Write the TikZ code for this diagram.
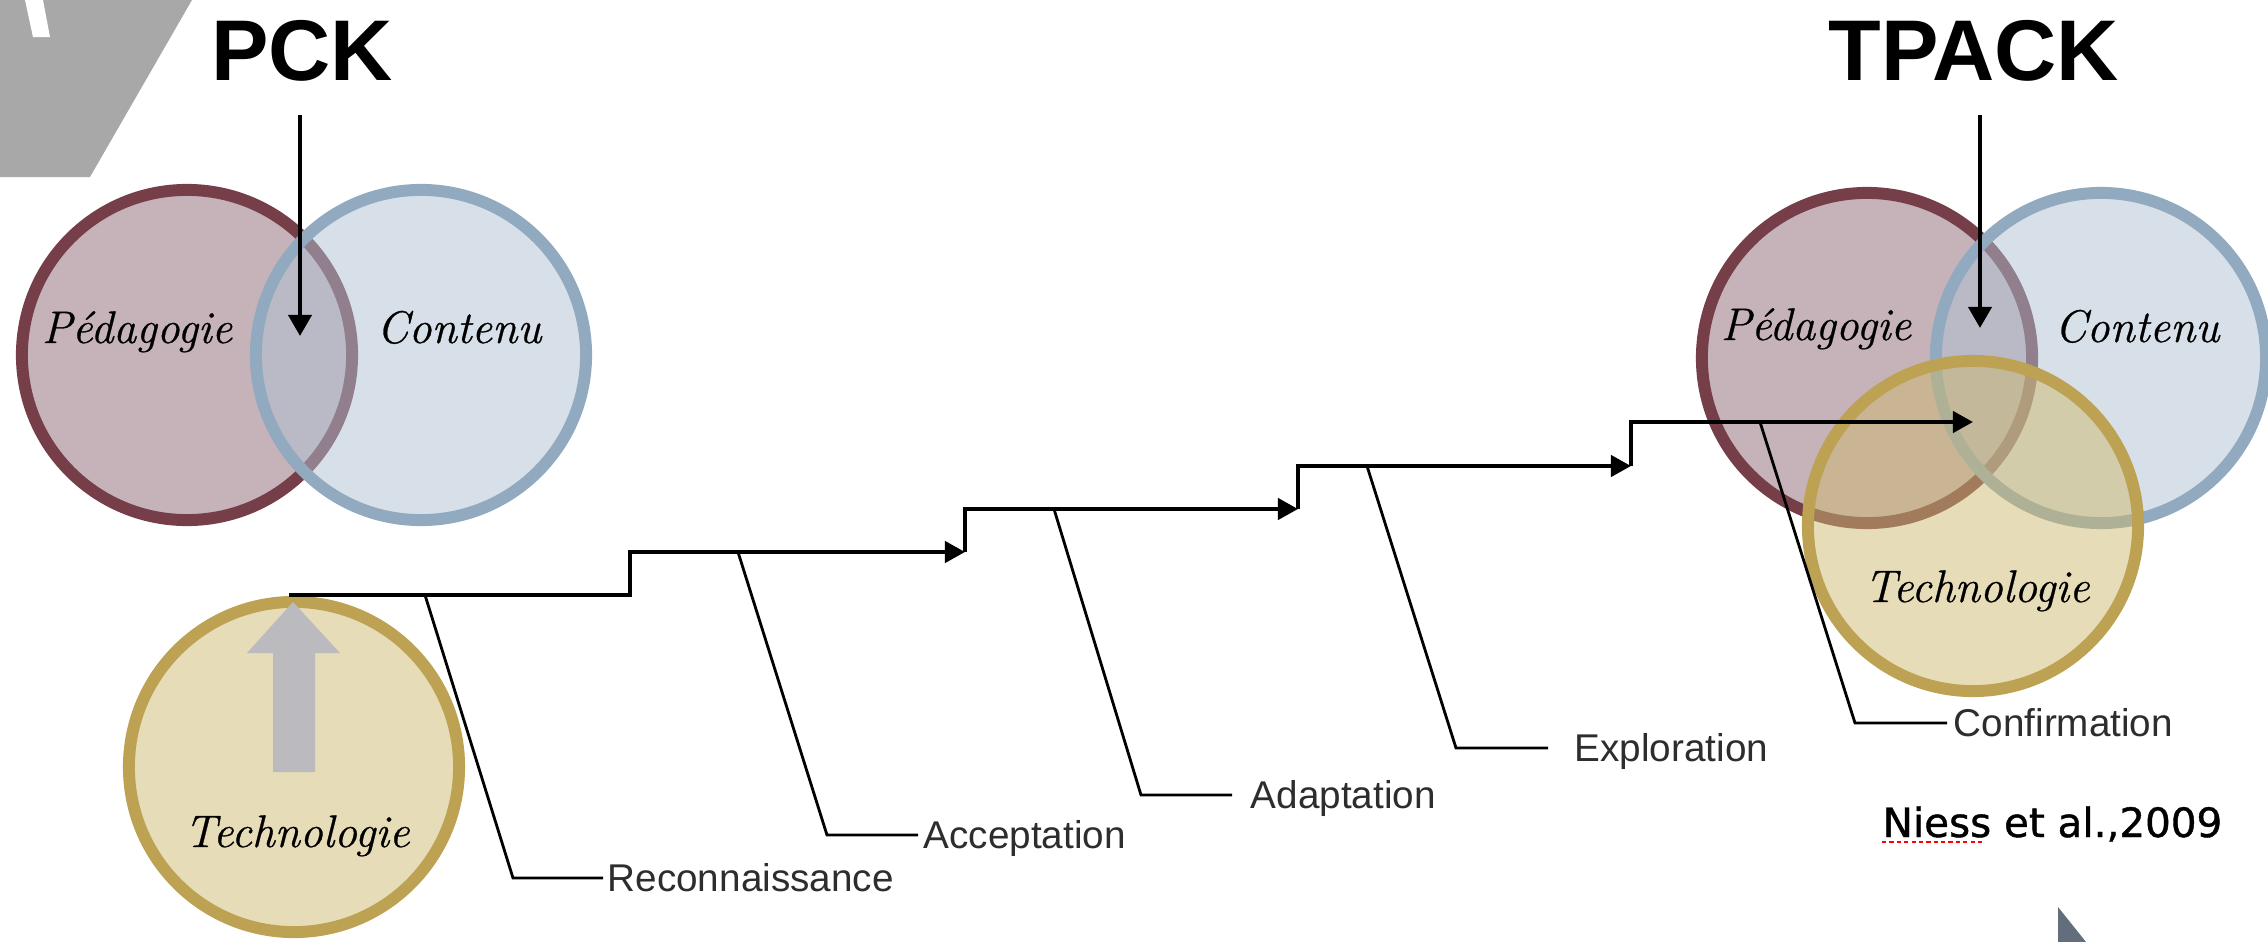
\documentclass[tikz,border=0pt]{standalone}
\usepackage{fontspec}
\newfontfamily\helv{Liberation Sans}
\newfontfamily\comic[FakeBold=1]{DejaVu Sans}
\newfontfamily\scriptfam[FakeBold=0.6]{Latin Modern Roman}
\usepackage{xcolor}
\usepackage{tikz}
\usetikzlibrary{positioning}
\usetikzlibrary{arrows.meta}
\usetikzlibrary{calc}

\definecolor{pedline}{RGB}{118,62,72}
\definecolor{pedfill}{RGB}{139,103,115}
\definecolor{conline}{RGB}{146,170,192}
\definecolor{confill}{RGB}{175,193,211}
\definecolor{tecline}{RGB}{190,162,83}
\definecolor{tecfill}{RGB}{205,185,111}
\definecolor{upgray}{RGB}{186,186,191}
\definecolor{cornergray}{RGB}{168,168,168}
\definecolor{slate}{RGB}{98,110,124}
\definecolor{stagetext}{RGB}{45,45,45}

\begin{document}
\begin{tikzpicture}[x=0.01cm, y=-0.01cm,
  venn/.style={circle, minimum size=3.3cm, line width=3.4pt, fill opacity=0.5},
  ped/.style={venn, draw=pedline, fill=pedfill},
  con/.style={venn, draw=conline, fill=confill},
  tec/.style={venn, draw=tecline, fill=tecfill},
  title/.style={font=\helv\bfseries\fontsize{24.5}{28}\selectfont, inner sep=0pt},
  script/.style={font=\scriptfam\itshape\fontsize{13}{15}\selectfont, anchor=base, inner sep=0pt},
  stage/.style={font=\helv\fontsize{11}{13}\selectfont, text=stagetext, inner sep=0pt, text height=7.9pt, text depth=0pt},
  stair/.style={line width=1.15pt, -{Triangle[length=5.7pt,width=6pt]}},
  leader/.style={line width=0.8pt},
  pointer/.style={line width=1.3pt, -{Triangle[length=6pt,width=6.5pt]}}]
\useasboundingbox (0,0) rectangle (2268,942);

% slide corners
\fill[cornergray] (0,0) -- (192,0) -- (90,177) -- (0,177) -- cycle;
\fill[white] (25,0) -- (43,0) -- (50,37) -- (33,37) -- cycle;
\fill[slate] (2058,907) -- (2086,942) -- (2058,942) -- cycle;

% PCK
\node[ped] (ped1) at (187,355) {};
\node[con] (con1) at (421,355) {};
\node[script] at (137,343) {Pédagogie};
\node[script] at (459,343) {Contenu};
\node[title] (pck) at (302,51) {PCK};
\coordinate (pcktop) at (300,115);
\coordinate (pckhit) at (300,336);
\draw[pointer] (pcktop) -- (pckhit);

% technologie alone
\node[tec] (tec1) at (294,767) {};
\fill[upgray] (293,602) -- (340,653) -- (315,653) -- (315,772) -- (273,772) -- (273,653) -- (247,653) -- cycle;
\node[script] at (297,847) {Technologie};

% TPACK
\node[ped] (ped2) at (1867,358) {};
\node[con] (con2) at (2101,358) {};
\node[tec] (tec2) at (1973,526) {};
\node[script] at (1816,340) {Pédagogie};
\node[script] at (2137,342) {Contenu};
\node[script] at (1977,602) {Technologie};
\node[title] (tpack) at (1974,51) {TPACK};
\coordinate (tpacktop) at (1980,115);
\coordinate (tpackhit) at (1980,328);
\draw[pointer] (tpacktop) -- (tpackhit);

% staircase
\coordinate (s0) at (289,595);
\coordinate (s1) at (630,595);
\coordinate (s1u) at (630,552);
\coordinate (s2) at (965,552);
\coordinate (s2u) at (965,509);
\coordinate (s3) at (1298,509);
\coordinate (s3u) at (1298,466);
\coordinate (s4) at (1631,466);
\coordinate (s4u) at (1631,422);
\coordinate (s5) at (1973,422);

\draw[stair] (s0) -- (s1) -- (s1u) -- (s2);
\draw[stair] (s2) -- (s2u) -- (s3);
\draw[stair] (s3) -- (s3u) -- (s4);
\draw[stair] (s4) -- (s4u) -- (s5);

% stages
\coordinate (l1) at (425,595);
\coordinate (b1) at (513,878);
\coordinate (e1) at (603,878);
\coordinate (l2) at (738,552);
\coordinate (b2) at (827,835);
\coordinate (e2) at (918,835);
\coordinate (l3) at (1054,509);
\coordinate (b3) at (1141,795);
\coordinate (e3) at (1232,795);
\coordinate (l4) at (1367,466);
\coordinate (b4) at (1456,748);
\coordinate (e4) at (1548,748);
\coordinate (l5) at (1760,422);
\coordinate (b5) at (1855,723);
\coordinate (e5) at (1947,723);

\node[stage, right=0.04cm of e1] (rec) {Reconnaissance};
\node[stage, right=0.05cm of e2] (acc) {Acceptation};
\node[stage, right=0.18cm of e3] (ada) {Adaptation};
\node[stage, right=0.26cm of e4] (exp) {Exploration};
\node[stage, right=0.06cm of e5] (cnf) {Confirmation};

\draw[leader] (l1) -- (b1) -- (e1);
\draw[leader] (l2) -- (b2) -- (e2);
\draw[leader] (l3) -- (b3) -- (e3);
\draw[leader] (l4) -- (b4) -- (e4);
\draw[leader] (l5) -- (b5) -- (e5);

% source
\node[font=\comic\fontsize{11.5}{14}\selectfont, anchor=base west, inner sep=0pt] (niess) at (1882,837) {Niess et al.,2009};
\draw[red, line width=0.6pt, dash pattern=on 1.2pt off 0.9pt] ([yshift=-1.5pt]niess.base west) -- ++(100,0);
\end{tikzpicture}
\end{document}
